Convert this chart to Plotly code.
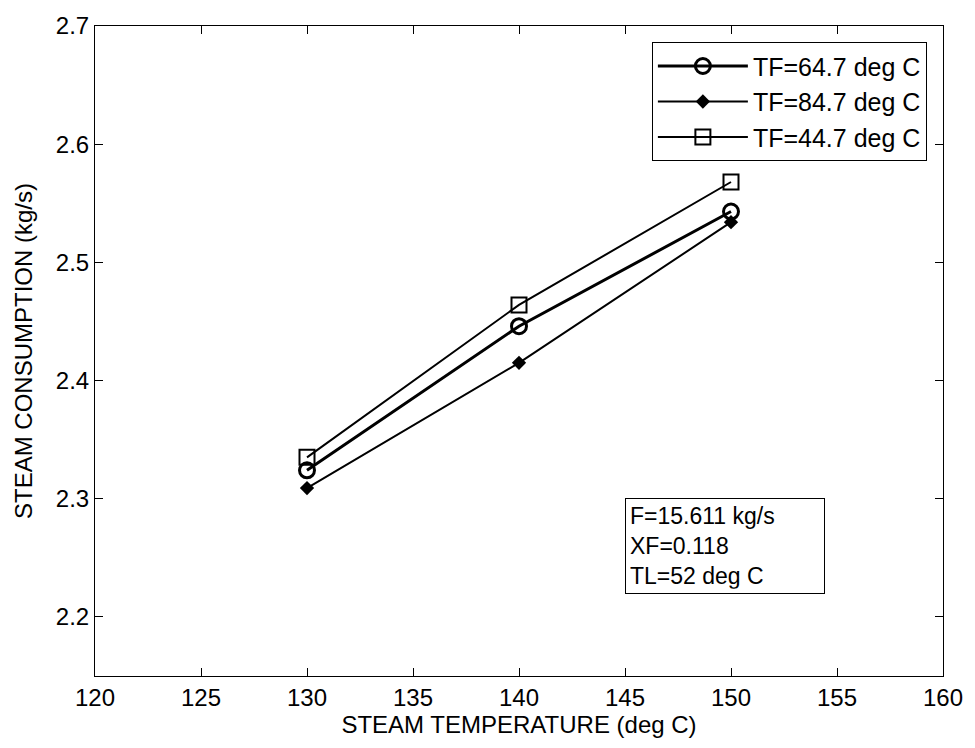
import plotly.graph_objects as go

temps = [130, 140, 150]
tf_64_7 = [2.324, 2.446, 2.543]
tf_84_7 = [2.309, 2.415, 2.534]
tf_44_7 = [2.335, 2.464, 2.568]

names = ["TF=64.7 deg C", "TF=84.7 deg C", "TF=44.7 deg C"]
x_ticks = [120, 125, 130, 135, 140, 145, 150, 155, 160]
y_ticks = [2.2, 2.3, 2.4, 2.5, 2.6, 2.7]
note_lines = ["F=15.611 kg/s", "XF=0.118", "TL=52 deg C"]

FONT = "Liberation Sans, Arial, sans-serif"

fig = go.Figure()
fig.add_trace(go.Scatter(
    x=temps, y=tf_64_7, name=names[0], mode="lines+markers",
    line=dict(color="black", width=3),
    marker=dict(symbol="circle-open", size=15, color="black", line=dict(width=3)),
))
fig.add_trace(go.Scatter(
    x=temps, y=tf_84_7, name=names[1], mode="lines+markers",
    line=dict(color="black", width=2),
    marker=dict(symbol="diamond", size=11, color="black"),
))
fig.add_trace(go.Scatter(
    x=temps, y=tf_44_7, name=names[2], mode="lines+markers",
    line=dict(color="black", width=2),
    marker=dict(symbol="square-open", size=15, color="black", line=dict(width=2)),
))

axis_common = dict(
    showgrid=False, zeroline=False, showline=True, linecolor="black", linewidth=1,
    mirror="ticks", ticks="inside", ticklen=8, tickcolor="black",
    tickfont=dict(family=FONT, size=24, color="black"),
    title_font=dict(family=FONT, size=24, color="black"),
)

fig.update_xaxes(range=[120, 160], tickvals=x_ticks, ticktext=[str(v) for v in x_ticks],
                 title_text="STEAM TEMPERATURE (deg C)", title_standoff=6, **axis_common)
fig.update_yaxes(range=[2.15, 2.7], tickvals=y_ticks, ticktext=[f"{v:.1f}" for v in y_ticks],
                 title_text="STEAM CONSUMPTION (kg/s)", title_standoff=16, **axis_common)

fig.add_annotation(
    xref="paper", yref="paper", x=0.625, y=0.1256, xanchor="left", yanchor="bottom",
    text="<br>".join(note_lines), align="left", showarrow=False,
    font=dict(family=FONT, size=23, color="black"),
    bordercolor="black", borderwidth=1, borderpad=4, bgcolor="white",
    width=190,
)

fig.update_layout(
    width=975, height=748,
    margin=dict(l=95, r=27, t=23, b=72),
    plot_bgcolor="white", paper_bgcolor="white",
    font=dict(family=FONT, size=24, color="black"),
    legend=dict(
        x=0.981, y=0.975, xanchor="right", yanchor="top",
        bordercolor="black", borderwidth=1, bgcolor="white",
        font=dict(family=FONT, size=25, color="black"),
        itemwidth=90, tracegroupgap=0,
    ),
)

fig.write_html("out.html")
